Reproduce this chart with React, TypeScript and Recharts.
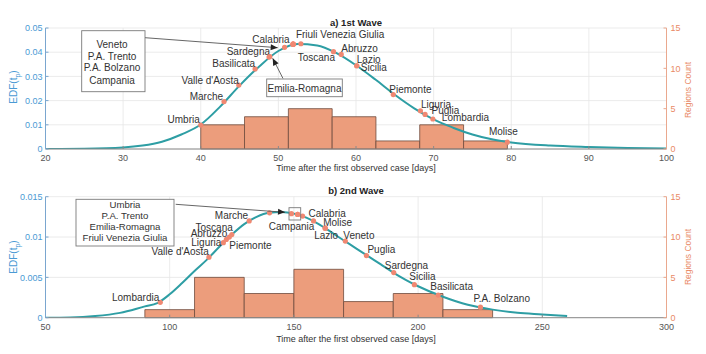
import React from 'react';
import {
  ComposedChart, Line, Scatter, XAxis, YAxis, CartesianGrid, ReferenceArea,
} from 'recharts';

// ---------- 1st wave ----------
const wave1CurveDays = [20, 25, 30, 32.5, 35, 37.5, 40, 42.5, 45, 47.5, 50, 52.5, 55, 57.5, 60, 62.5, 65, 67.5, 70, 72.5, 75, 77.5, 80, 85, 90, 95, 100];
const wave1CurveEdf = [0, 0.0001, 0.0006, 0.0014, 0.003, 0.006, 0.0101, 0.0175, 0.0262, 0.034, 0.0405, 0.0434, 0.0428, 0.0396, 0.0346, 0.0287, 0.0224, 0.0168, 0.0122, 0.0088, 0.006, 0.004, 0.0027, 0.0014, 0.0008, 0.0004, 0.0002];
const wave1BinEdges = [40, 45.64, 51.29, 56.93, 62.57, 68.21, 73.86, 79.5];
const wave1Counts = [3, 4, 5, 4, 1, 3, 1];
const wave1Regions = ['Umbria', 'Marche', "Valle d'Aosta", 'Basilicata', 'Sardegna', 'Emilia-Romagna', 'Calabria', 'Veneto', 'P.A. Trento', 'P.A. Bolzano', 'Campania', 'Friuli Venezia Giulia', 'Toscana', 'Abruzzo', 'Lazio', 'Sicilia', 'Piemonte', 'Liguria', 'Puglia', 'Lombardia', 'Molise'];
const wave1Days = [40.0, 43.0, 44.9, 47.0, 48.8, 48.9, 50.8, 51.9, 51.9, 51.9, 51.9, 52.9, 57.1, 58.1, 60.1, 60.1, 64.8, 68.3, 68.9, 69.9, 79.5];
const wave1Edf = [0.0099, 0.0196, 0.0264, 0.0331, 0.038, 0.0382, 0.042, 0.0433, 0.0433, 0.0433, 0.0433, 0.0435, 0.0402, 0.0391, 0.0344, 0.0344, 0.0225, 0.0158, 0.0143, 0.0124, 0.0028];
const wave1XTicks = [20, 30, 40, 50, 60, 70, 80, 90, 100];
const wave1YTicks = [0, 0.01, 0.02, 0.03, 0.04, 0.05];

// ---------- 2nd wave ----------
const wave2CurveDays = [50, 60, 70, 80, 90, 95, 100, 105, 110, 115, 120, 125, 130, 135, 140, 145, 150, 155, 160, 165, 170, 175, 180, 185, 190, 195, 200, 210, 220, 230, 240, 250, 260];
const wave2CurveEdf = [0, 0.00003, 0.0002, 0.0006, 0.0014, 0.0018, 0.0029, 0.0043, 0.0058, 0.0072, 0.0088, 0.0103, 0.0116, 0.0125, 0.013, 0.0131, 0.0129, 0.0124, 0.0116, 0.0106, 0.0096, 0.0086, 0.0076, 0.0066, 0.0056, 0.0047, 0.0039, 0.0026, 0.0016, 0.001, 0.0006, 0.0004, 0.0002];
const wave2BinEdges = [90, 110, 130, 150, 170, 190, 210, 230];
const wave2Counts = [1, 5, 3, 6, 2, 3, 1];
const wave2Regions = ['Lombardia', "Valle d'Aosta", 'Liguria', 'Piemonte', 'Abruzzo', 'Toscana', 'Marche', 'Umbria', 'P.A. Trento', 'Emilia-Romagna', 'Friuli Venezia Giulia', 'Campania', 'Calabria', 'Molise', 'Lazio', 'Veneto', 'Puglia', 'Sardegna', 'Sicilia', 'Basilicata', 'P.A. Bolzano'];
const wave2Days = [96.2, 115.8, 121.6, 122.8, 124.0, 125.0, 132.0, 140.2, 149.0, 151.5, 151.5, 153.5, 157.9, 162.6, 162.6, 170.7, 179.2, 190.2, 198.5, 208.1, 225.1];
const wave2Edf = [0.0019, 0.0075, 0.0093, 0.0097, 0.01, 0.0103, 0.012, 0.013, 0.0129, 0.0128, 0.0128, 0.0126, 0.012, 0.0111, 0.0111, 0.0095, 0.0077, 0.0056, 0.0041, 0.0028, 0.0013];
const wave2XTicks = [50, 100, 150, 200, 250, 300];
const wave2YTicks = [0, 0.005, 0.01, 0.015];

const countTicks = [0, 5, 10, 15];

// label placement (dx, dy, anchor) — styling only
const wave1Labels: Record<string, [number, number, string]> = {
  'Umbria': [-1, -6, 'end'],
  'Marche': [-1, -5, 'end'],
  "Valle d'Aosta": [0, -5, 'end'],
  'Basilicata': [0, -5.5, 'end'],
  'Sardegna': [1, -6, 'end'],
  'Calabria': [5, -8, 'end'],
  'Friuli Venezia Giulia': [-5, -9.5, 'start'],
  'Toscana': [1.5, 6, 'end'],
  'Abruzzo': [0, -6, 'start'],
  'Lazio': [0, -6, 'start'],
  'Sicilia': [4, 2, 'start'],
  'Piemonte': [-4, -5, 'start'],
  'Liguria': [0.5, -6.5, 'start'],
  'Puglia': [6.5, -3.7, 'start'],
  'Lombardia': [9, -1.3, 'start'],
  'Molise': [-4, -11, 'middle'],
};
const wave2Labels: Record<string, [number, number, string]> = {
  'Lombardia': [-1, -5, 'end'],
  "Valle d'Aosta": [0, -6, 'end'],
  'Liguria': [-2, 0, 'end'],
  'Piemonte': [3, 6.5, 'start'],
  'Abruzzo': [-2, -4, 'end'],
  'Toscana': [1, -7, 'end'],
  'Marche': [-1, -5, 'end'],
  'Campania': [-11, 10.5, 'middle'],
  'Calabria': [-5, -7, 'start'],
  'Molise': [-2, -5.5, 'start'],
  'Lazio': [1, 7.5, 'middle'],
  'Veneto': [-2, -6, 'start'],
  'Puglia': [1, -6, 'start'],
  'Sardegna': [-9, -7.5, 'start'],
  'Sicilia': [-5, -8.5, 'start'],
  'Basilicata': [-8, -9, 'start'],
  'P.A. Bolzano': [-7, -9, 'start'],
};

const curve1 = wave1CurveDays.map((t, i) => ({ t, edf: wave1CurveEdf[i] }));
const curve2 = wave2CurveDays.map((t, i) => ({ t, edf: wave2CurveEdf[i] }));
const points1 = wave1Regions.map((name, i) => ({ name, t: wave1Days[i], edf: wave1Edf[i] }));
const points2 = wave2Regions.map((name, i) => ({ name, t: wave2Days[i], edf: wave2Edf[i] }));

const TEAL = '#2e9ea4';
const BAR_FILL = '#ec9d7c';
const BAR_EDGE = '#6e4b3e';
const MARK = '#f08872';
const BLUE = '#4a9ad4';
const ORANGE = '#e98a66';
const GRID = '#e6e6e6';

const makeShape = (placements: Record<string, [number, number, string]>) => (props: any) => {
  const { cx, cy, payload } = props;
  const p = placements[payload.name];
  return (
    <g>
      <circle cx={cx} cy={cy} r={2.6} fill={MARK} />
      {p && (
        <text x={cx + p[0]} y={cy + p[1]} textAnchor={p[2] as any} dominantBaseline="central" fontSize={10} fill="#333">
          {payload.name}
        </text>
      )}
    </g>
  );
};

function Panel(props: {
  curve: any[]; points: any[]; edges: number[]; counts: number[];
  xTicks: number[]; yTicks: number[]; placements: Record<string, [number, number, string]>;
  height: number; top: number; xHeight: number;
}) {
  const { curve, points, edges, counts, xTicks, yTicks, placements, height, top, xHeight } = props;
  const xDomain = [xTicks[0], xTicks[xTicks.length - 1]];
  const yDomain = [yTicks[0], yTicks[yTicks.length - 1]];
  return (
    <ComposedChart width={706} height={height} data={curve} margin={{ top, right: 0, bottom: 0, left: 0 }}>
      <CartesianGrid yAxisId="left" stroke={GRID} strokeWidth={0.8} horizontalValues={yTicks} verticalValues={xTicks} />
      <XAxis dataKey="t" type="number" domain={xDomain} ticks={xTicks} allowDataOverflow height={xHeight}
        tick={{ fontSize: 9, fill: '#555' }} tickSize={-3} tickMargin={9} stroke="#8a8a8a" axisLine={{ stroke: '#8a8a8a' }} tickLine={{ stroke: '#8a8a8a' }} />
      <XAxis xAxisId="top" orientation="top" type="number" domain={xDomain} height={0} tick={false} tickLine={false} axisLine={{ stroke: '#9a9a9a' }} />
      <YAxis yAxisId="left" type="number" domain={yDomain} ticks={yTicks} allowDataOverflow width={45.5}
        tick={{ fontSize: 9, fill: BLUE }} tickSize={-3} tickMargin={6} axisLine={{ stroke: '#7aa6cf' }} tickLine={{ stroke: '#7aa6cf' }} />
      <YAxis yAxisId="right" orientation="right" type="number" domain={[0, 15]} ticks={countTicks} allowDataOverflow width={39.5}
        tick={{ fontSize: 9, fill: ORANGE }} tickSize={-3} tickMargin={7} axisLine={{ stroke: '#eaa88e' }} tickLine={{ stroke: '#eaa88e' }} />
      {counts.map((c, i) => (
        <ReferenceArea key={i} yAxisId="right" x1={edges[i]} x2={edges[i + 1]} y1={0} y2={c}
          fill={BAR_FILL} fillOpacity={1} stroke={BAR_EDGE} strokeWidth={0.8} />
      ))}
      <Line yAxisId="left" dataKey="edf" type="monotone" stroke={TEAL} strokeWidth={2} dot={false} isAnimationActive={false} />
      <Scatter yAxisId="left" data={points} dataKey="edf" shape={makeShape(placements)} isAnimationActive={false} />
    </ComposedChart>
  );
}

function arrowHead(x1: number, y1: number, x2: number, y2: number) {
  const dx = x2 - x1, dy = y2 - y1;
  const L = Math.hypot(dx, dy);
  const ux = dx / L, uy = dy / L;
  const bx = x2 - ux * 7, by = y2 - uy * 7;
  const px = -uy * 3, py = ux * 3;
  return `${x2},${y2} ${bx + px},${by + py} ${bx - px},${by - py}`;
}

function Arrow({ x1, y1, x2, y2 }: { x1: number; y1: number; x2: number; y2: number }) {
  return (
    <g>
      <line x1={x1} y1={y1} x2={x2} y2={y2} stroke="#555" strokeWidth={0.9} />
      <polygon points={arrowHead(x1, y1, x2, y2)} fill="#222" />
    </g>
  );
}

export default function App() {
  return (
    <div style={{ position: 'absolute', left: 0, top: 0, width: 706, height: 354, background: '#fff', fontFamily: '"Liberation Sans", Arial, sans-serif' }}>
      <div style={{ position: 'absolute', left: 0, top: 0 }}>
        <Panel curve={curve1} points={points1} edges={wave1BinEdges} counts={wave1Counts} xTicks={wave1XTicks} yTicks={wave1YTicks}
          placements={wave1Labels} height={177} top={28} xHeight={28} />
      </div>
      <div style={{ position: 'absolute', left: 0, top: 170 }}>
        <Panel curve={curve2} points={points2} edges={wave2BinEdges} counts={wave2Counts} xTicks={wave2XTicks} yTicks={wave2YTicks}
          placements={wave2Labels} height={184} top={26.7} xHeight={36.3} />
      </div>
      <svg width={706} height={354} style={{ position: 'absolute', left: 0, top: 0, pointerEvents: 'none' }}>
        {/* titles */}
        <text x={356} y={25.5} textAnchor="middle" fontSize={9.5} fontWeight="bold" fill="#222">a) 1st Wave</text>
        <text x={356} y={193.5} textAnchor="middle" fontSize={9.5} fontWeight="bold" fill="#222">b) 2nd Wave</text>
        <text x={356} y={171} textAnchor="middle" fontSize={9} fill="#333">Time after the first observed case [days]</text>
        <text x={356} y={341.5} textAnchor="middle" fontSize={9} fill="#333">Time after the first observed case [days]</text>
        {/* y titles */}
        <text transform="translate(17,87) rotate(-90)" textAnchor="middle" fontSize={10} fill={BLUE}>
          EDF(t<tspan fontSize={7} dy={3}>p</tspan><tspan dy={-3}>)</tspan>
        </text>
        <text transform="translate(17,257) rotate(-90)" textAnchor="middle" fontSize={10} fill={BLUE}>
          EDF(t<tspan fontSize={7} dy={3}>p</tspan><tspan dy={-3}>)</tspan>
        </text>
        <text transform="translate(691,90) rotate(-90)" textAnchor="middle" fontSize={8.5} fill={ORANGE}>Regions Count</text>
        <text transform="translate(691,257) rotate(-90)" textAnchor="middle" fontSize={8.5} fill={ORANGE}>Regions Count</text>

        {/* annotations panel a */}
        <Arrow x1={145} y1={37.7} x2={277.7} y2={47.7} />
        <rect x={81.7} y={30.7} width={63.3} height={61} fill="#fff" stroke="#7a7a7a" strokeWidth={0.9} />
        <g fontSize={10} fill="#333" textAnchor="middle" dominantBaseline="central">
          <text x={112} y={44.3}>Veneto</text>
          <text x={112} y={56}>P.A. Trento</text>
          <text x={112} y={67.5}>P.A. Bolzano</text>
          <text x={112} y={80.5}>Campania</text>
        </g>
        <Arrow x1={283} y1={78.5} x2={272.7} y2={58.3} />
        <rect x={266.7} y={79} width={75.6} height={17.7} fill="#fff" stroke="#7a7a7a" strokeWidth={0.9} />
        <text x={304.5} y={88} fontSize={10} fill="#333" textAnchor="middle" dominantBaseline="central">Emilia-Romagna</text>

        {/* annotations panel b */}
        <Arrow x1={175.7} y1={204.3} x2={285} y2={212.3} />
        <rect x={76} y={199.3} width={98} height={46.7} fill="#fff" stroke="#7a7a7a" strokeWidth={0.9} />
        <g fontSize={9.6} fill="#333" textAnchor="middle" dominantBaseline="central">
          <text x={125} y={204.8}>Umbria</text>
          <text x={125} y={215.7}>P.A. Trento</text>
          <text x={125} y={226.7}>Emilia-Romagna</text>
          <text x={125} y={237.7}>Friuli Venezia Giulia</text>
        </g>
        <rect x={289} y={207.7} width={11.7} height={12.3} fill="none" stroke="#7a7a7a" strokeWidth={0.9} />
      </svg>
    </div>
  );
}
